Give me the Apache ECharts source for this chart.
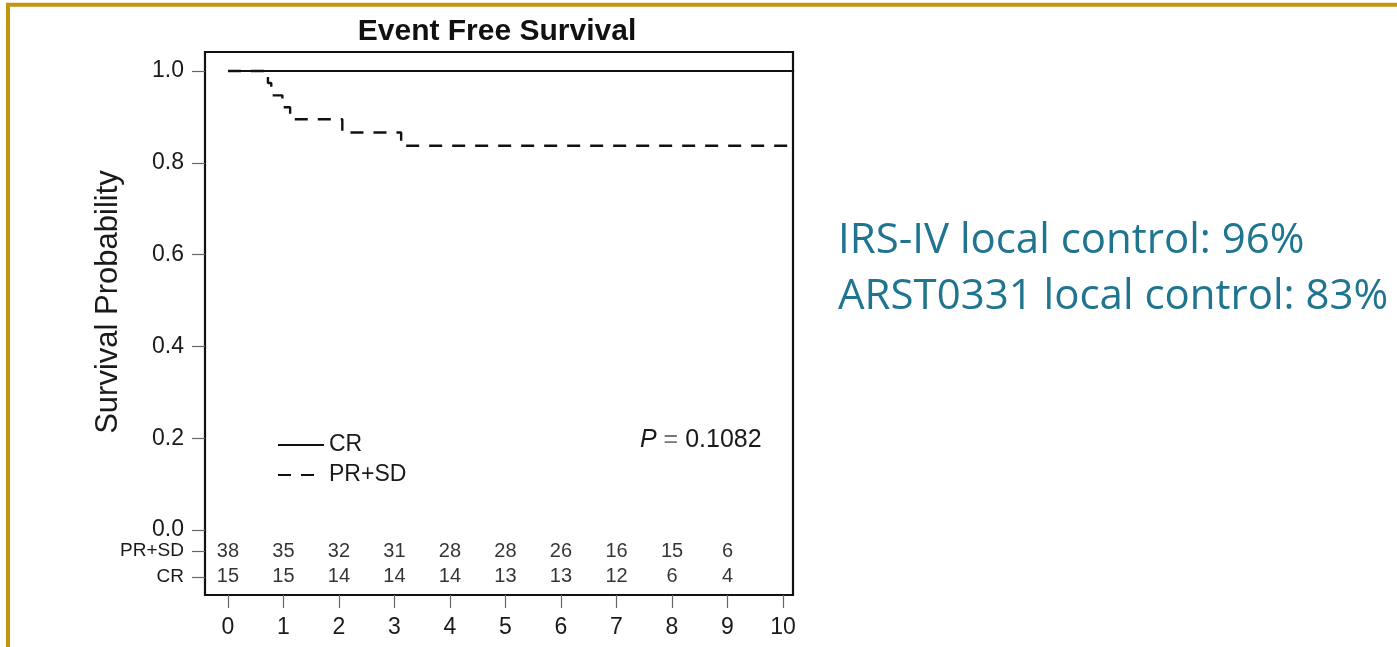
<!DOCTYPE html>
<html>
<head>
<meta charset="utf-8">
<title>Event Free Survival</title>
<script src="https://cdn.jsdelivr.net/npm/echarts@6/dist/echarts.min.js"></script>
<style>
  html, body { margin: 0; padding: 0; background: #ffffff; }
  #chart { width: 1397px; height: 647px; }
</style>
</head>
<body>
<div id="chart"></div>
<script>
// ---- data ----
const xTicks = [0, 1, 2, 3, 4, 5, 6, 7, 8, 9, 10];
const xTickLabels = ['0', '1', '2', '3', '4', '5', '6', '7', '8', '9', '10'];
const yTicks = [0, 0.2, 0.4, 0.6, 0.8, 1.0];
const yTickLabels = ['0.0', '0.2', '0.4', '0.6', '0.8', '1.0'];

// Kaplan-Meier steps (years, survival probability)
const crTimes = [0, 10.2];
const crSurv = [1.0, 1.0];
const prsdTimes = [0, 0.72, 0.78, 0.98, 1.12, 2.06, 3.12, 10.2];
const prsdSurv = [1.0, 0.974, 0.947, 0.921, 0.895, 0.866, 0.837, 0.837];

// numbers at risk
const riskYears = [0, 1, 2, 3, 4, 5, 6, 7, 8, 9];
const riskPRSD = [38, 35, 32, 31, 28, 28, 26, 16, 15, 6];
const riskCR = [15, 15, 14, 14, 14, 13, 13, 12, 6, 4];
const seriesNames = ['CR', 'PR+SD'];

const pValueText = '0.1082';
const sideNotes = ['IRS-IV local control: 96%', 'ARST0331 local control: 83%'];

// ---- layout ----
const ROW_Y = { 'PR+SD': -0.046, 'CR': -0.102 };
const FONT = 'Liberation Sans, Arial, Helvetica, sans-serif';
const NARROW = '"Liberation Sans Narrow", "Arial Narrow", "Liberation Sans", sans-serif';
const INK = '#1a1a1a';

const zip = (xs, ys) => xs.map((x, i) => [x, ys[i]]);
const riskRow = (counts, rowName) =>
  riskYears.map((t, i) => [t, ROW_Y[rowName], counts[i]]);

const yTickValues = yTicks.concat([ROW_Y['PR+SD'], ROW_Y['CR']]);
function yLabel(v) {
  for (let i = 0; i < yTicks.length; i++) {
    if (Math.abs(v - yTicks[i]) < 1e-6) return yTickLabels[i];
  }
  for (const k in ROW_Y) {
    if (Math.abs(v - ROW_Y[k]) < 1e-6) return '{r|' + k + '}';
  }
  return '';
}

const chart = echarts.init(document.getElementById('chart'), null, { renderer: 'canvas' });

const riskLabel = {
  show: true,
  position: 'inside',
  formatter: p => String(p.value[2]),
  color: '#000',
  fontFamily: NARROW,
  fontSize: 20
};

chart.setOption({
  animation: false,
  backgroundColor: '#ffffff',
  grid: {
    left: 205, right: 604, top: 52, bottom: 52,
    show: true, borderColor: '#111', borderWidth: 2.2, backgroundColor: 'transparent'
  },
  xAxis: {
    type: 'value',
    min: -0.414, max: 10.18,
    splitLine: { show: false },
    axisLine: { show: false, onZero: false },
    axisTick: { show: true, inside: false, length: 13, customValues: xTicks,
                lineStyle: { color: '#666', width: 1.2 } },
    axisLabel: { show: true, customValues: xTicks, margin: 21,
                 formatter: v => xTickLabels[xTicks.indexOf(Math.round(v))],
                 color: INK, fontFamily: FONT, fontSize: 23 }
  },
  yAxis: {
    type: 'value',
    min: -0.1416, max: 1.0414,
    splitLine: { show: false },
    axisLine: { show: false, onZero: false },
    axisTick: { show: true, inside: false, length: 13, customValues: yTickValues,
                lineStyle: { color: '#666', width: 1.2 } },
    axisLabel: { show: true, customValues: yTickValues, margin: 21,
                 formatter: yLabel,
                 color: INK, fontFamily: FONT, fontSize: 23,
                 rich: { r: { fontFamily: FONT, fontSize: 19, color: INK } } }
  },
  legend: {
    data: seriesNames,
    orient: 'vertical',
    left: 272, top: 428,
    itemWidth: 46, itemHeight: 14, itemGap: 6,
    itemStyle: { opacity: 0 },
    textStyle: { color: INK, fontFamily: FONT, fontSize: 23, lineHeight: 24 }
  },
  series: [
    {
      name: 'CR', type: 'line', step: 'end', symbol: 'none',
      data: zip(crTimes, crSurv),
      lineStyle: { color: '#111', width: 2.2, type: 'solid' },
      itemStyle: { color: '#111' }
    },
    {
      name: 'PR+SD', type: 'line', step: 'end', symbol: 'none',
      data: zip(prsdTimes, prsdSurv),
      lineStyle: { color: '#111', width: 2.4, type: [13, 10] },
      itemStyle: { color: '#111' }
    },
    {
      name: 'at risk PR+SD', type: 'scatter', symbolSize: 0, silent: true,
      data: riskRow(riskPRSD, 'PR+SD'), label: riskLabel
    },
    {
      name: 'at risk CR', type: 'scatter', symbolSize: 0, silent: true,
      data: riskRow(riskCR, 'CR'), label: riskLabel
    }
  ],
  graphic: [
    {
      type: 'rect', silent: true,
      shape: { x: 8, y: 4.8, width: 1600, height: 900 },
      style: { fill: 'none', stroke: '#C3950F', lineWidth: 4 }
    },
    {
      type: 'text', x: 497, y: 32,
      style: { text: 'Event Free Survival', fill: '#111', font: 'bold 30px ' + FONT,
               align: 'center', verticalAlign: 'middle' }
    },
    {
      type: 'text', x: 108, y: 302, rotation: Math.PI / 2,
      style: { text: 'Survival Probability', fill: INK, font: '31px ' + FONT,
               align: 'center', verticalAlign: 'middle' }
    },
    {
      type: 'text', x: 640, y: 440,
      style: {
        text: '{i|P} {e|=} ' + pValueText,
        fill: INK, font: '25px ' + FONT, verticalAlign: 'middle',
        rich: {
          i: { fontStyle: 'italic', fontFamily: FONT, fontSize: 25, fill: INK },
          e: { fontFamily: FONT, fontSize: 25, fill: '#777' }
        }
      }
    },
    {
      type: 'text', x: 838, y: 241,
      style: { text: sideNotes[0], fill: '#1F7590', font: '42px "Open Sans", Lato, sans-serif',
               verticalAlign: 'middle' }
    },
    {
      type: 'text', x: 838, y: 297,
      style: { text: sideNotes[1], fill: '#1F7590', font: '42px "Open Sans", Lato, sans-serif',
               verticalAlign: 'middle' }
    }
  ]
});
</script>
</body>
</html>
